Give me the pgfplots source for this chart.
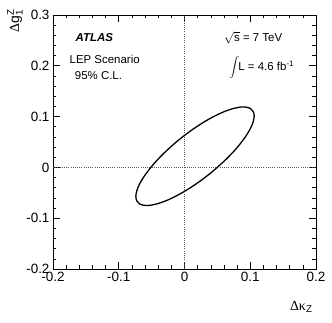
\documentclass[border=0pt]{standalone}
\usepackage{pgfplots}
\pgfplotsset{compat=1.18}
\usepackage{fontspec}
\setmainfont{Liberation Sans}
\newfontfamily\symb{Liberation Serif}

\begin{document}
\begin{tikzpicture}

\begin{axis}[
  scale only axis,
  width=263bp, height=254bp,
  xmin=-0.2, xmax=0.2,
  ymin=-0.2, ymax=0.3,
  xtick={-0.2,-0.1,0,0.1,0.2},
  ytick={-0.2,-0.1,0,0.1,0.2,0.3},
  minor x tick num=4,
  minor y tick num=4,
  scaled ticks=false,
  tick align=inside,
  major tick length=7bp,
  minor tick length=3.5bp,
  axis line style={line width=0.8pt},
  tick style={line width=0.6pt, black},
  tick label style={font=\fontsize{13.5}{15}\selectfont},
  /pgf/number format/assume math mode=true,
  /pgf/number format/.cd, fixed, precision=1, /pgfplots/.cd,
  xlabel={{\symb Δκ}\textsubscript{Z}},
  ylabel={{\symb Δ}g$^{\mathrm{Z}}_{\mathrm{1}}$},
  xlabel style={at={(rel axis cs:1,0)}, anchor=north east, yshift=-29bp, font=\fontsize{14}{16}\selectfont},
  % label is rotated by 90: xshift moves it up, yshift moves it left
  ylabel style={at={(rel axis cs:0,1)}, anchor=east, xshift=9bp, yshift=38bp, font=\fontsize{14}{16}\selectfont},
  clip=false,
]

% reference lines
\addplot[gray!70!black, line width=0.5pt, dash pattern=on 0.8pt off 1.4pt] coordinates {(0,-0.2) (0,0.3)};
\addplot[gray!70!black, line width=0.5pt, dash pattern=on 0.8pt off 1.4pt] coordinates {(-0.2,0) (0.2,0)};

% 95% C.L. contour
\addplot[black, line width=1.3pt, smooth cycle] coordinates {
(0.1060,0.1013) (0.1046,0.1098) (0.1006,0.1156) (0.0939,0.1186)
(0.0849,0.1187) (0.0739,0.1158) (0.0610,0.1101) (0.0468,0.1017)
(0.0316,0.0909) (0.0160,0.0780) (0.0004,0.0634) (-0.0148,0.0475)
(-0.0290,0.0308) (-0.0419,0.0139) (-0.0529,-0.0027) (-0.0619,-0.0186)
(-0.0686,-0.0333) (-0.0726,-0.0463) (-0.0740,-0.0573) (-0.0726,-0.0658)
(-0.0686,-0.0716) (-0.0619,-0.0746) (-0.0529,-0.0747) (-0.0419,-0.0718)
(-0.0290,-0.0661) (-0.0148,-0.0577) (0.0004,-0.0469) (0.0160,-0.0340)
(0.0316,-0.0194) (0.0468,-0.0035) (0.0610,0.0132) (0.0739,0.0301)
(0.0849,0.0467) (0.0939,0.0626) (0.1006,0.0775) (0.1046,0.0903)
};

\node[anchor=west, font=\fontsize{11.5}{13}\selectfont\bfseries\itshape] at (axis cs:-0.171,0.255) {ATLAS};
\node[anchor=west, font=\fontsize{11.5}{13}\selectfont] at (axis cs:-0.180,0.213) {LEP Scenario};
\node[anchor=west, font=\fontsize{11.5}{13}\selectfont] at (axis cs:-0.172,0.180) {95\% C.L.};
\node[anchor=west, font=\fontsize{11.5}{13}\selectfont] at (axis cs:0.055,0.256) {$\sqrt{\mathrm{s}}$ = 7 TeV};
\node[anchor=west, font=\fontsize{11.5}{13}\selectfont] at (axis cs:0.063,0.196) {$\displaystyle\int$\kern-1pt L = 4.6 fb\textsuperscript{-1}};

\coordinate (bl) at (rel axis cs:0,0);
\coordinate (tr) at (rel axis cs:1,1);
\end{axis}

\pgfresetboundingbox
\path ([shift={(-53bp,-54bp)}]bl) rectangle ([shift={(16bp,15bp)}]tr);

\end{tikzpicture}
\end{document}
